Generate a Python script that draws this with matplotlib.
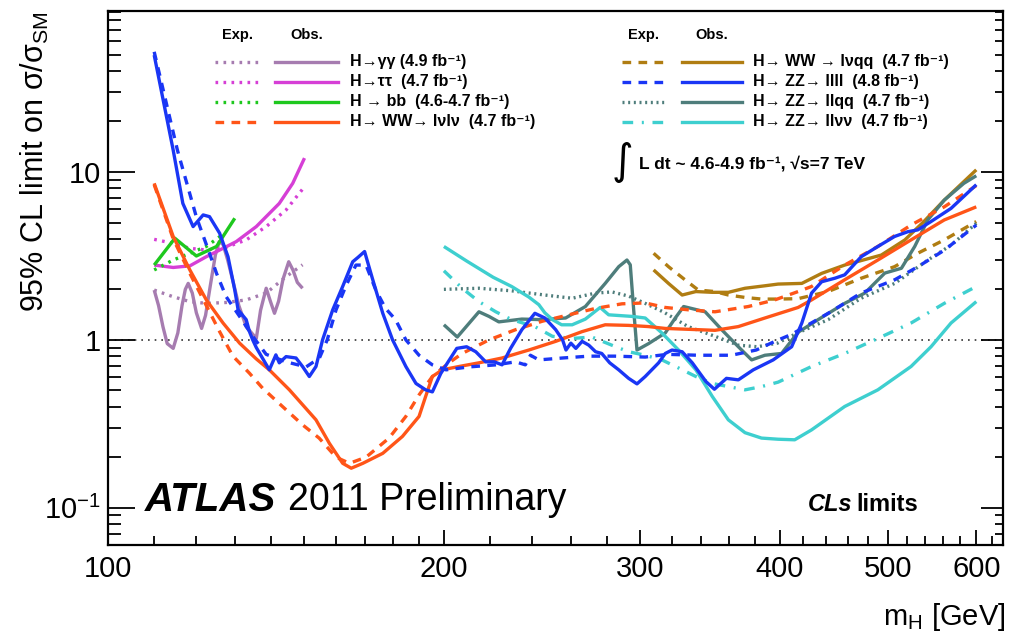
import matplotlib
matplotlib.use("Agg")
import matplotlib.pyplot as plt
from matplotlib.ticker import FixedLocator, FixedFormatter, NullFormatter

plt.rcParams['font.family'] = ['Liberation Sans', 'DejaVu Sans']
plt.rcParams['mathtext.fontset'] = 'custom'
plt.rcParams['mathtext.rm'] = 'Liberation Sans'
plt.rcParams['mathtext.it'] = 'Liberation Sans:italic'
plt.rcParams['mathtext.bf'] = 'Liberation Sans:bold'

# ---- data ----
m_gg_obs = [110, 111, 112, 113, 114.4, 115.5, 116.5, 117.3, 118, 119, 120, 121.3,
            122.3, 123.5, 124.8, 125.8, 126.8, 128, 129.5, 131, 133, 135.8,
            137, 138.6, 139.8, 141, 142.2, 143.5, 145.2, 146.5, 147.8, 149.4]
gg_obs = [1.98, 1.6, 1.2, 0.95, 0.89, 1.1, 1.6, 2.0, 2.17, 1.9, 1.45, 1.17,
          1.4, 2.1, 3.2, 3.85, 3.7, 3.0, 2.2, 1.6, 1.2, 1.02,
          1.5, 2.03, 1.7, 1.44, 1.7, 2.3, 2.92, 2.6, 2.2, 2.03]
m_gg_exp = [110, 114.3, 118.4, 122.5, 127.6, 133, 138.6, 144.4, 149.4]
gg_exp = [1.98, 1.81, 1.69, 1.65, 1.67, 1.73, 1.9, 2.38, 2.8]

m_tt_obs = [110, 114.4, 118.4, 122.5, 126.8, 130.3, 135.8, 142.4, 146.4, 150]
tt_obs = [2.79, 2.7, 2.76, 3.13, 3.51, 3.85, 4.73, 6.5, 8.56, 12.1]
m_tt_exp = [110, 114.4, 118.4, 122.5, 127.6, 133, 138.6, 144.4, 149.4]
tt_exp = [3.97, 3.76, 3.51, 3.43, 3.56, 3.94, 4.73, 5.94, 7.9]

m_bb_obs = [110, 114.8, 120, 125.1, 129.9]
bb_obs = [2.79, 4.03, 3.16, 3.6, 5.3]
m_bb_exp = [110, 114.4, 118.4, 122.5, 126]
bb_exp = [2.61, 2.99, 3.28, 3.6, 4.13]

m_lvlv_obs = [110, 114.4, 118.4, 122.5, 126.8, 131.2, 135.8, 139.5, 145.4, 153.6,
              157.9, 162.3, 165.2, 169.2, 176.3, 183.6, 190, 192.6, 195.3, 199.3,
              206.3, 215, 225.5, 238.3, 251.9, 266, 279, 292.8, 305.1, 315.8,
              338.1, 349.9, 367.2, 387.9, 415.4, 427.1, 457.3, 489.7, 524.4, 561.6, 600]
lvlv_obs = [8.56, 4.13, 2.61, 1.73, 1.26, 0.956, 0.77, 0.663, 0.504, 0.334,
            0.242, 0.184, 0.172, 0.184, 0.211, 0.266, 0.35, 0.46, 0.605, 0.663,
            0.694, 0.73, 0.78, 0.87, 0.98, 1.12, 1.23, 1.22, 1.2, 1.17,
            1.15, 1.14, 1.2, 1.35, 1.56, 1.73, 2.28, 2.99, 3.94, 5.18, 6.2]
m_lvlv_exp = [110, 114.4, 118.4, 122.5, 125.9, 129.4, 133.9, 137.6, 143.4, 149.4,
              154.6, 160.1, 164.6, 170.3, 178.6, 184.9, 190, 195.3, 202.1, 207.7,
              219.5, 231.9, 244.9, 258.8, 273.5, 288.8, 303, 315.8, 331.3, 349.9,
              374.8, 395.9, 415.4, 427.1, 457.3, 489.7, 524.4, 561.6, 600]
lvlv_exp = [8.4, 4.0, 2.49, 1.6, 1.12, 0.8, 0.633, 0.515, 0.4, 0.312,
            0.26, 0.2, 0.184, 0.2, 0.26, 0.35, 0.47, 0.605, 0.73, 0.83,
            1.0, 1.15, 1.29, 1.41, 1.54, 1.64, 1.66, 1.56, 1.51, 1.47,
            1.58, 1.73, 1.94, 2.08, 2.79, 3.6, 4.83, 6.2, 8.3]

m_lvqq_obs = [308.3, 317.9, 327, 336.4, 348, 359.7, 372.3, 387.9, 398.6, 418.6,
              436.1, 457.3, 493.2, 517.8, 538.5, 561.6, 600]
lvqq_obs = [2.61, 2.17, 1.85, 1.94, 1.92, 1.92, 2.03, 2.1, 2.15, 2.17,
            2.49, 2.79, 3.2, 3.94, 5.07, 6.8, 10.3]
m_lvqq_exp = [308.3, 317.9, 328.9, 338.1, 349.9, 359.7, 372.3, 385.2, 398.6, 415.4,
              441.9, 473.2, 506.9, 531.7, 561.6, 600]
lvqq_exp = [3.28, 2.73, 2.28, 1.98, 1.94, 1.85, 1.79, 1.75, 1.75, 1.76,
            1.94, 2.33, 2.73, 3.28, 3.94, 5.07]

m_4l_obs = [110, 114.4, 116.7, 119.2, 121.7, 123.3, 125.9, 128.1, 129.9, 130.8,
            133.0, 133.9, 134.8, 135.8, 139.5, 141.4, 142.4, 144.4, 147.4, 149.4,
            151.5, 153.6, 155.7, 159.0, 162.3, 165.7, 167.5, 169.8, 172.7, 176.3,
            179.9, 184.9, 188.8, 192.6, 195.3, 198.7, 201.5, 205.4, 209.6, 213.6,
            218.0, 221.9, 225.5, 229.5, 234.9, 241.3, 246.3, 251.9, 255.5, 257.3,
            259.9, 262.6, 266.0, 269.7, 273.5, 277.0, 281.6, 286.9, 292.8, 297.9,
            303.0, 311.5, 315.8, 320.2, 327.0, 333.9, 343.4, 349.5, 358.3, 367.2,
            378.7, 394.6, 409.9, 418.6, 427.1, 436.1, 448.2, 457.3, 473.2, 489.7,
            506.9, 521.0, 531.7, 546.5, 569.5, 600]
zz4l_obs = [49.7, 13.5, 6.5, 4.73, 5.55, 5.42, 4.32, 3.13, 1.98, 1.51,
            1.32, 1.12, 1.0, 0.9, 0.663, 0.814, 0.73, 0.795, 0.78, 0.694,
            0.605, 0.694, 1.0, 1.51, 2.08, 2.92, 3.1, 3.36, 2.28, 1.44,
            1.0, 0.694, 0.55, 0.504, 0.49, 0.63, 0.73, 0.89, 0.91, 0.85,
            0.74, 0.74, 0.71, 0.89, 1.15, 1.44, 1.35, 1.15, 1.0, 0.87,
            0.956, 0.89, 0.98, 0.93, 0.85, 0.83, 0.73, 0.663, 0.59, 0.547,
            0.605, 0.73, 0.83, 0.87, 0.85, 0.73, 0.565, 0.508, 0.59, 0.578,
            0.663, 0.76, 0.91, 1.26, 1.9, 2.22, 2.33, 2.44, 3.13, 3.6,
            4.13, 4.41, 4.52, 5.07, 6.07, 8.4]
m_4l_exp = [110, 115.4, 120, 123.3, 125.1, 127.6, 131.2, 134.8, 138.6, 144.4,
            150.5, 154.7, 157.2, 160.1, 163.4, 166.8, 170.3, 173.8, 177.3, 181.0,
            184.9, 190, 195.3, 200.9, 210.6, 222.6, 231.9, 236.6, 239.1, 243.3,
            255.5, 269.7, 284.5, 303, 317, 338, 362, 381, 396, 410,
            442, 473, 507, 532, 562, 600]
zz4l_exp = [52, 13.5, 5.4, 3.28, 2.49, 1.81, 1.38, 1.05, 0.82, 0.74,
            0.69, 0.78, 1.0, 1.51, 2.1, 2.79, 2.79, 1.98, 1.54, 1.32,
            1.0, 0.81, 0.71, 0.663, 0.69, 0.71, 0.74, 0.71, 0.81, 0.76,
            0.78, 0.8, 0.8, 0.79, 0.82, 0.81, 0.81, 0.87, 0.98, 1.08,
            1.44, 1.9, 2.28, 2.73, 3.43, 4.83]

m_llqq_obs = [200, 205.6, 215, 219.5, 224, 234.9, 244.9, 257.1, 267.8, 279,
              286.9, 291.8, 293.8, 295.9, 297.9, 305.1, 315.8, 322.4, 328, 342.9,
              354.8, 367.2, 377.4, 387.9, 401.4, 415.4, 432.9, 457.3, 476.7, 496.8,
              514.1, 528.4, 542.8, 561.6, 584.8, 600]
llqq_obs = [1.23, 1.04, 1.47, 1.38, 1.28, 1.33, 1.32, 1.35, 1.58, 2.17,
            2.73, 2.99, 2.8, 1.5, 0.87, 0.95, 1.1, 1.35, 1.58, 1.47,
            1.15, 0.91, 0.76, 0.81, 0.83, 1.11, 1.32, 1.65, 1.9, 2.5,
            2.67, 3.6, 5.18, 6.8, 8.56, 9.5]
m_llqq_exp = [200, 215, 230, 246.3, 260.6, 273.5, 283, 293, 303, 315,
              331, 350, 367, 382, 398, 415, 442, 473, 507, 543, 570, 600]
llqq_exp = [2.0, 2.03, 1.96, 1.85, 1.77, 1.9, 1.93, 1.82, 1.65, 1.46,
            1.2, 1.05, 0.93, 0.91, 0.956, 1.1, 1.32, 1.77, 2.17, 2.99, 3.68, 4.95]

m_llvv_obs = [200, 209.6, 221.4, 230, 238.3, 243.3, 246.3, 250.2, 255, 260.6,
              267.8, 276.1, 281, 294.8, 303, 313.6, 324.6, 336.4, 348, 359.7,
              372.3, 385.2, 398.6, 412.5, 427.1, 457.3, 489.7, 524.4, 546.5, 569.5, 600]
llvv_obs = [3.6, 2.95, 2.36, 2.08, 1.8, 1.62, 1.45, 1.32, 1.23, 1.23,
            1.33, 1.56, 1.41, 1.38, 1.35, 1.1, 0.87, 0.663, 0.46, 0.334,
            0.28, 0.26, 0.256, 0.254, 0.291, 0.401, 0.504, 0.694, 0.91, 1.26, 1.69]
m_llvv_exp = [200, 207.7, 215, 222.6, 230, 241.3, 250.2, 260.6, 271.4, 282.8,
              292.8, 303, 313.6, 324.6, 336.4, 348, 359.7, 372.3, 385.2, 398.6,
              427.1, 457.3, 489.7, 524.4, 561.6, 600]
llvv_exp = [2.58, 2.03, 1.69, 1.47, 1.32, 1.2, 1.05, 1.02, 1.04, 0.93,
            0.85, 0.81, 0.76, 0.68, 0.605, 0.55, 0.527, 0.504, 0.527, 0.56,
            0.694, 0.83, 1.02, 1.26, 1.65, 2.08]

x_major = [100, 200, 300, 400, 500, 600]
x_minor = [110, 120, 130, 140, 150, 160, 170, 180, 190, 220, 240, 260, 280,
           320, 340, 360, 380, 420, 440, 460, 480, 520, 540, 560, 580, 620]
y_major = [0.1, 1, 10]
y_major_labels = [r'$\mathregular{10^{-1}}$', '1', '10']
y_minor = [0.06, 0.07, 0.08, 0.09, 0.2, 0.3, 0.4, 0.5, 0.6, 0.7, 0.8, 0.9,
           2, 3, 4, 5, 6, 7, 8, 9, 20, 30, 40, 50, 60, 70, 80, 90]

# ---- styles ----
c_gg = '#a67cb0'
c_tt = '#d63fd6'
c_bb = '#1ec81e'
c_lvlv = '#ff5518'
c_lvqq = '#b07d12'
c_4l = '#1a36f5'
c_llqq = '#4e7d7b'
c_llvv = '#3ecfcf'
lw = 2.4
dotted = (0, (0.8, 1.6))
fine_dot = (0, (0.6, 1.1))
dashed = (0, (2.6, 2.2))
dashdot = (0, (3.2, 2.6, 0.6, 2.6))

fig = plt.figure(figsize=(10.09, 6.35), dpi=100)
ax = fig.add_axes([108 / 1009, 1 - 545 / 635, 895 / 1009, 534 / 635])
ax.set_xscale('log')
ax.set_yscale('log')
ax.set_xlim(100, 634)
ax.set_ylim(0.06, 91)

ax.axhline(1, color='#333333', ls=(0, (1, 3)), lw=1.2, zorder=1)

curves = [
    (m_gg_exp, gg_exp, c_gg, dotted), (m_gg_obs, gg_obs, c_gg, '-'),
    (m_tt_exp, tt_exp, c_tt, dotted), (m_tt_obs, tt_obs, c_tt, '-'),
    (m_bb_exp, bb_exp, c_bb, dotted), (m_bb_obs, bb_obs, c_bb, '-'),
    (m_lvqq_exp, lvqq_exp, c_lvqq, dashed), (m_lvqq_obs, lvqq_obs, c_lvqq, '-'),
    (m_llqq_exp, llqq_exp, c_llqq, fine_dot), (m_llqq_obs, llqq_obs, c_llqq, '-'),
    (m_llvv_exp, llvv_exp, c_llvv, dashdot), (m_llvv_obs, llvv_obs, c_llvv, '-'),
    (m_lvlv_exp, lvlv_exp, c_lvlv, dashed), (m_lvlv_obs, lvlv_obs, c_lvlv, '-'),
    (m_4l_exp, zz4l_exp, c_4l, dashed), (m_4l_obs, zz4l_obs, c_4l, '-'),
]
for mx, vy, col, ls in curves:
    ax.plot(mx, vy, color=col, ls=ls, lw=lw, solid_capstyle='butt',
            solid_joinstyle='round', zorder=2)

# ---- axes / ticks ----
ax.xaxis.set_major_locator(FixedLocator(x_major))
ax.xaxis.set_major_formatter(FixedFormatter([str(v) for v in x_major]))
ax.xaxis.set_minor_locator(FixedLocator(x_minor))
ax.xaxis.set_minor_formatter(NullFormatter())
ax.yaxis.set_major_locator(FixedLocator(y_major))
ax.yaxis.set_major_formatter(FixedFormatter(y_major_labels))
ax.yaxis.set_minor_locator(FixedLocator(y_minor))
ax.yaxis.set_minor_formatter(NullFormatter())

ax.tick_params(axis='both', which='both', direction='in', top=False, right=False,
               width=1.3, labelsize=21, colors='black')
ax.tick_params(axis='y', which='major', length=19.5, pad=5)
ax.tick_params(axis='y', which='minor', length=9.5)
ax.tick_params(axis='x', which='major', length=10.5, pad=7)
ax.tick_params(axis='x', which='minor', length=6.5)
for sp in ax.spines.values():
    sp.set_linewidth(1.6)

tw = ax.twinx()
tw.set_yscale('log')
tw.set_ylim(ax.get_ylim())
tw.yaxis.set_major_locator(FixedLocator(y_major))
tw.yaxis.set_minor_locator(FixedLocator(y_minor))
tw.yaxis.set_major_formatter(NullFormatter())
tw.yaxis.set_minor_formatter(NullFormatter())
tw.tick_params(axis='y', which='both', direction='in', width=1.3)
tw.tick_params(axis='y', which='major', length=15.5)
tw.tick_params(axis='y', which='minor', length=6)
for sp in tw.spines.values():
    sp.set_visible(False)

ax.set_ylabel(r'95% CL limit on $\mathregular{\sigma/\sigma_{SM}}$', fontsize=22, loc='top')
ax.yaxis.set_label_coords(-0.064, 1.0)
ax.set_xlabel(r'$\mathregular{m_{H}}$ [GeV]', fontsize=21, loc='right')
ax.xaxis.set_label_coords(1.003, -0.105)

# ---- legends ----
def legend_block(x_exp, x_obs, x_txt, rows, head_y, row_y):
    ax.text(sum(x_exp) / 2, head_y, 'Exp.', transform=ax.transAxes, ha='center',
            va='center', fontsize=10.5, fontweight='bold')
    ax.text(sum(x_obs) / 2, head_y, 'Obs.', transform=ax.transAxes, ha='center',
            va='center', fontsize=10.5, fontweight='bold')
    for yy, (label, col, ls) in zip(row_y, rows):
        ax.plot(x_exp, [yy, yy], transform=ax.transAxes, color=col, ls=ls, lw=lw,
                clip_on=False)
        ax.plot(x_obs, [yy, yy], transform=ax.transAxes, color=col, ls='-', lw=lw,
                clip_on=False)
        ax.text(x_txt, yy, label, transform=ax.transAxes, ha='left', va='center',
                fontsize=11.5, fontweight='bold')

row_y = [0.905, 0.8676, 0.830, 0.7927]
legend_block([0.120, 0.170], [0.187, 0.257], 0.270, [
    ('H\u2192\u03b3\u03b3 (4.9 fb\u207b\u00b9)', c_gg, dotted),
    ('H\u2192\u03c4\u03c4  (4.7 fb\u207b\u00b9)', c_tt, dotted),
    ('H \u2192 bb  (4.6-4.7 fb\u207b\u00b9)', c_bb, dotted),
    ('H\u2192 WW\u2192 l\u03bdl\u03bd  (4.7 fb\u207b\u00b9)', c_lvlv, dashed),
], 0.955, row_y)
legend_block([0.574, 0.622], [0.641, 0.708], 0.721, [
    ('H\u2192 WW \u2192 l\u03bdqq  (4.7 fb\u207b\u00b9)', c_lvqq, dashed),
    ('H\u2192 ZZ\u2192 llll  (4.8 fb\u207b\u00b9)', c_4l, dashed),
    ('H\u2192 ZZ\u2192 llqq  (4.7 fb\u207b\u00b9)', c_llqq, fine_dot),
    ('H\u2192 ZZ\u2192 ll\u03bd\u03bd  (4.7 fb\u207b\u00b9)', c_llvv, dashdot),
], 0.955, row_y)

ax.text(0.575, 0.718, '\u222b', transform=ax.transAxes, ha='center', va='center',
        fontsize=30, family=['DejaVu Sans'])
ax.text(0.593, 0.715, 'L dt ~ 4.6-4.9 fb\u207b\u00b9, \u221as=7 TeV', transform=ax.transAxes,
        ha='left', va='center', fontsize=12.5, fontweight='bold')

ax.text(0.041, 0.084, 'ATLAS', transform=ax.transAxes, ha='left', va='center',
        fontsize=29, fontweight='bold', style='italic')
ax.text(0.201, 0.084, '2011 Preliminary', transform=ax.transAxes, ha='left',
        va='center', fontsize=27)
ax.text(0.782, 0.075, 'CLs', transform=ax.transAxes, ha='left', va='center',
        fontsize=17, fontweight='bold', style='italic')
ax.text(0.836, 0.075, 'limits', transform=ax.transAxes, ha='left', va='center',
        fontsize=17, fontweight='bold')

fig.savefig('out.png', dpi=100)
